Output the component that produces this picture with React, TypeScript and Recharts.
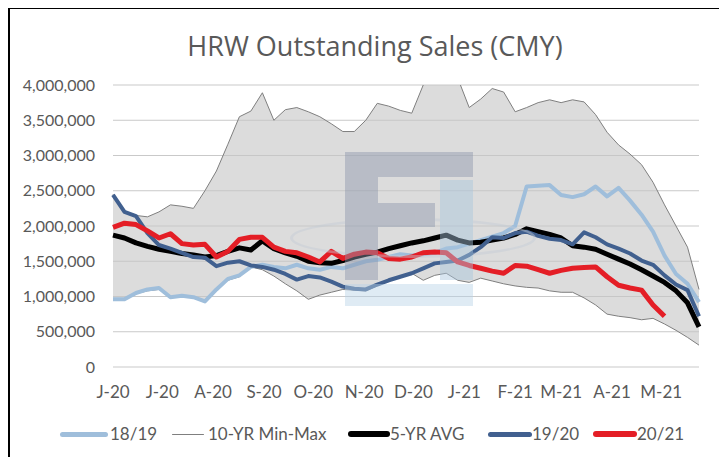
import { ComposedChart, Area, Line, XAxis, YAxis, CartesianGrid } from 'recharts'

// weekly points, days from 1 June 2020
const days = [
  0, 7, 14, 21, 28, 35, 42, 49, 56, 63, 70, 77, 84, 91, 98, 105, 112, 119, 126, 133,
  140, 147, 154, 161, 168, 175, 182, 189, 196, 203, 210, 217, 224, 231, 238, 245, 252, 259,
  266, 273, 280, 287, 294, 301, 308, 315, 322, 329, 336, 343, 350, 357,
]

const monthTicks = [0, 30, 61, 92, 122, 153, 183, 214, 245, 273, 304, 334]
const monthLabels = ['J-20', 'J-20', 'A-20', 'S-20', 'O-20', 'N-20', 'D-20', 'J-21', 'F-21', 'M-21', 'A-21', 'M-21']
const yTicks = [0, 500000, 1000000, 1500000, 2000000, 2500000, 3000000, 3500000, 4000000]

// values in thousands
const max10 = [
  2450, 2200, 2150, 2130, 2200, 2300, 2280, 2250, 2500, 2780, 3160, 3550, 3630, 3890, 3500, 3650, 3680, 3620, 3550, 3450,
  3340, 3340, 3500, 3740, 3700, 3640, 3600, 4000, 4300, 4400, 4100, 3680, 3800, 3950, 3900, 3620, 3680, 3750, 3790, 3750,
  3790, 3760, 3580, 3330, 3150, 3020, 2870, 2620, 2300, 2000, 1700, 1100,
]
const min10 = [
  950, 950, 1040, 1080, 1100, 980, 1000, 980, 920, 1080, 1230, 1280, 1420, 1380, 1290, 1180, 1080, 960, 1020, 1060,
  1100, 1090, 1080, 1150, 1220, 1280, 1330, 1230, 1300, 1330, 1230, 1200, 1260, 1220, 1180, 1150, 1130, 1120, 1080, 1060,
  1060, 980, 880, 750, 720, 700, 670, 690, 610, 520, 420, 310,
]
const s1819 = [
  960, 960, 1050, 1100, 1120, 990, 1010, 990, 930, 1100, 1250, 1300, 1420, 1450, 1420, 1400, 1450, 1400, 1380, 1420,
  1400, 1450, 1500, 1520, 1560, 1600, 1580, 1600, 1620, 1680, 1700, 1750, 1800, 1850, 1900, 2000, 2560, 2570, 2580, 2440,
  2410, 2450, 2560, 2420, 2540, 2360, 2160, 1920, 1580, 1320, 1180, 920,
]
const avg5 = [
  1870, 1830, 1760, 1710, 1670, 1640, 1610, 1590, 1560, 1580, 1640, 1690, 1660, 1790, 1680, 1620, 1570, 1500, 1480, 1470,
  1510, 1560, 1600, 1630, 1680, 1720, 1760, 1790, 1830, 1870, 1800, 1760, 1770, 1800, 1830, 1880, 1960, 1920, 1880, 1830,
  1720, 1700, 1670, 1600, 1530, 1460, 1380, 1290, 1200, 1080, 910, 570,
]
const s1920 = [
  2440, 2200, 2140, 1900, 1730, 1680, 1620, 1560, 1550, 1430, 1480, 1500, 1440, 1420, 1380, 1320, 1240, 1290, 1270, 1210,
  1140, 1110, 1100, 1170, 1230, 1280, 1330, 1400, 1470, 1490, 1510, 1590, 1700, 1840, 1830, 1900, 1920, 1860, 1820, 1800,
  1740, 1910, 1840, 1740, 1680, 1610, 1510, 1450, 1300, 1170, 1090, 720,
]
const s2021 = [
  1980, 2040, 2020, 1930, 1830, 1890, 1750, 1730, 1740, 1560, 1640, 1810, 1840, 1840, 1700, 1640, 1620, 1560, 1490, 1640,
  1540, 1600, 1630, 1620, 1540, 1530, 1560, 1620, 1630, 1620, 1490, 1440, 1400, 1360, 1330, 1440, 1430, 1380, 1330, 1370,
  1400, 1410, 1420, 1280, 1160, 1120, 1090, 880, 720,
]

const data = days.map((d, i) => ({
  day: d,
  band: [min10[i] * 1000, max10[i] * 1000],
  min: min10[i] * 1000,
  max: max10[i] * 1000,
  s1819: s1819[i] * 1000,
  avg5: avg5[i] * 1000,
  s1920: s1920[i] * 1000,
  s2021: s2021[i] != null ? s2021[i] * 1000 : null,
}))

const txt = '#595959'
const tickFont = 'Lato, "Noto Sans", sans-serif'

const legend = [
  { label: '18/19', color: '#9FBEDB', w: 5, x1: 60, x2: 108, tx: 110 },
  { label: '10-YR Min-Max', color: '#7f7f7f', w: 1, x1: 172, x2: 204, tx: 208 },
  { label: '5-YR AVG', color: '#000000', w: 6, x1: 348, x2: 390, tx: 390 },
  { label: '19/20', color: '#41608F', w: 5, x1: 488, x2: 532, tx: 532 },
  { label: '20/21', color: '#E41E26', w: 6, x1: 593, x2: 637, tx: 637 },
]

export default function App() {
  return (
    <div style={{ position: 'relative', width: 727, height: 465, margin: -8, background: '#fff', overflow: 'hidden' }}>
      <div style={{ position: 'absolute', left: 6, top: 6, width: 721, height: 3, background: '#000' }} />
      <div style={{ position: 'absolute', left: 6, top: 6, width: 4, height: 459, background: '#000' }} />
      <div
        style={{
          position: 'absolute', left: 125, top: 27, width: 500, textAlign: 'center',
          fontFamily: '"Open Sans", sans-serif', fontSize: 27, fontWeight: 500, color: txt,
        }}
      >
        HRW Outstanding Sales (CMY)
      </div>
      <div style={{ position: 'absolute', left: 0, top: 0 }}>
        <ComposedChart width={727} height={465} data={data} margin={{ top: 85, right: 28, bottom: 68, left: 8 }}>
          <CartesianGrid vertical={false} stroke="#c9c9c9" />
          <XAxis
            dataKey="day"
            type="number"
            domain={[0, 357]}
            ticks={monthTicks}
            tickFormatter={(v: number) => monthLabels[monthTicks.indexOf(v)]}
            axisLine={false}
            tickLine={false}
            tickMargin={13}
            interval={0}
            tick={{ fill: txt, fontSize: 17, fontFamily: tickFont }}
          />
          <YAxis
            width={105}
            domain={[0, 4000000]}
            ticks={yTicks}
            allowDataOverflow
            axisLine={false}
            tickLine={false}
            tickMargin={12}
            tickFormatter={(v: number) => v.toLocaleString('en-US')}
            tick={{ fill: txt, fontSize: 16, fontFamily: tickFont }}
          />
          <Area dataKey="band" type="linear" stroke="none" fill="#c6c6c6" fillOpacity={0.62} isAnimationActive={false} />
          <Line dataKey="min" type="linear" stroke="#7f7f7f" strokeWidth={1} dot={false} isAnimationActive={false} />
          <Line dataKey="max" type="linear" stroke="#7f7f7f" strokeWidth={1} dot={false} isAnimationActive={false} />
          <Line dataKey="s1819" type="linear" stroke="#9FBEDB" strokeWidth={4} dot={false} strokeLinejoin="round" isAnimationActive={false} />
          <Line dataKey="avg5" type="linear" stroke="#000000" strokeWidth={5} dot={false} strokeLinejoin="round" isAnimationActive={false} />
          <Line dataKey="s1920" type="linear" stroke="#41608F" strokeWidth={4} dot={false} strokeLinejoin="round" isAnimationActive={false} />
          <Line dataKey="s2021" type="linear" stroke="#E41E26" strokeWidth={5} dot={false} strokeLinejoin="round" isAnimationActive={false} />
        </ComposedChart>
      </div>
      {/* faint logo watermark */}
      <div style={{ position: 'absolute', left: 0, top: 0, width: 727, height: 465, opacity: 0.45, pointerEvents: 'none' }}>
        <div style={{ position: 'absolute', left: 290, top: 218, width: 240, height: 34, borderRadius: '50%', border: '3px solid #c4ccd6' }} />
        <div style={{ position: 'absolute', left: 345, top: 152, width: 128, height: 25, background: '#8d97ad' }} />
        <div style={{ position: 'absolute', left: 345, top: 177, width: 33, height: 103, background: '#8d97ad' }} />
        <div style={{ position: 'absolute', left: 378, top: 203, width: 57, height: 24, background: '#8d97ad' }} />
        <div style={{ position: 'absolute', left: 440, top: 180, width: 33, height: 100, background: '#a9c6de' }} />
        <div style={{ position: 'absolute', left: 345, top: 284, width: 128, height: 22, background: '#b9d3e8' }} />
      </div>
      {legend.map(l => (
        <div key={l.label}>
          <div
            style={{
              position: 'absolute', left: l.x1, top: 434 - l.w / 2, width: l.x2 - l.x1, height: l.w,
              background: l.color, borderRadius: l.w / 2,
            }}
          />
          <div
            style={{
              position: 'absolute', left: l.tx, top: 423, fontFamily: tickFont, fontSize: 17,
              color: txt, lineHeight: '22px', whiteSpace: 'nowrap',
            }}
          >
            {l.label}
          </div>
        </div>
      ))}
    </div>
  )
}
